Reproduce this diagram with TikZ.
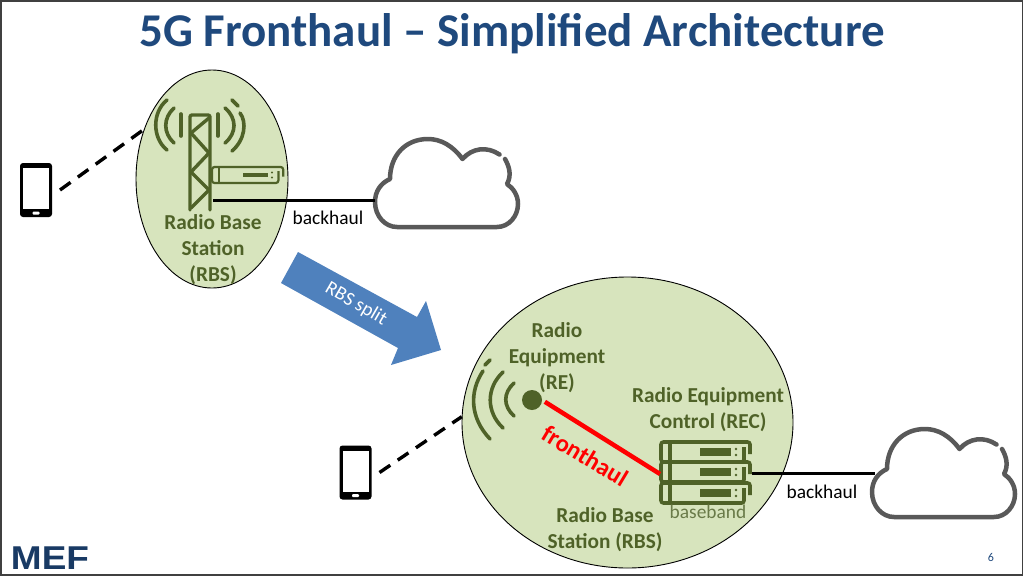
\documentclass[tikz,border=0pt]{standalone}
\usepackage{fontspec}
\setmainfont{Carlito}
\newfontfamily\logofont{Liberation Sans}
\usetikzlibrary{shapes.geometric}
\definecolor{olive}{HTML}{4F6228}
\definecolor{leaf}{HTML}{D7E4BD}
\definecolor{titleblue}{HTML}{1F497D}
\definecolor{arrowblue}{HTML}{4F81BD}
\tikzset{
    pics/phoneicon/.style={code={
        \node[phonebody] (-body) {};
        \fill[white] (-13,-22) rectangle (13,19);
        \fill[white, rounded corners=1pt] (-3.5,21.5) rectangle (3.5,24.5);
    }},
    pics/cloudicon/.style={code={
        \draw[cloudline] (124.5,16.5) .. controls (112,8) and (97,10) .. (87.5,21)
            .. controls (78,8) and (66,1) .. (53,1) .. controls (30,1) and (15,18) .. (15,41)
            .. controls (6,45) and (0,53) .. (0,64) .. controls (0,78) and (10,89) .. (22,89)
            -- (122,89) .. controls (134,89) and (143,78) .. (143,66)
            .. controls (143,57) and (138,50) .. (132,46) .. controls (137,37) and (134,28) .. (130,21);
    }},
    pics/serverrow/.style={code={
        \draw[olive, rounded corners=2.5pt] (89,12) -- (89,0) -- (0,0) -- (0,20) -- (83,20) -- (83,5);
        \draw[olive] (9,0) -- (9,20);
        \draw[olive, line width=1.4*\pgflinewidth] (39,10) -- (70,10);
        \fill[olive] (75,7) circle (1.4) (75,13) circle (1.4);
    }}
}
\begin{document}
\begin{tikzpicture}[x=1pt, y=-1pt,
    site/.style={ellipse, draw=black, fill=leaf, line width=0.9pt, inner sep=0pt},
    phonebody/.style={rectangle, fill=black, rounded corners=3pt, inner sep=0pt, minimum width=32pt, minimum height=54pt, outer sep=8pt},
    cloudline/.style={draw=black!65, line width=4.5pt, line join=round, line cap=round},
    oliveline/.style={draw=olive, line width=3.4pt, line cap=round, line join=round},
    wave/.style={draw=olive, line width=3.6pt, line cap=round},
    radiolink/.style={draw=black, line width=3.4pt, dash pattern=on 13pt off 9pt},
    wiredlink/.style={draw=black, line width=3pt},
    sitelabel/.style={text=olive, font=\fontsize{21.3}{26}\selectfont\bfseries, align=center, inner sep=0pt},
    linklabel/.style={text=black, font=\fontsize{19.4}{22}\selectfont, inner sep=0pt}]

    \useasboundingbox (0,0) rectangle (1024,576);
    \fill[white] (0,0) rectangle (1024,576);
    \draw[black!75, line width=1.5pt] (1,1) rectangle (1022.5,575);

    % title and logo
    \node[text=titleblue, font=\fontsize{47}{50}\selectfont\bfseries, inner sep=0pt] (title) at (512,34) {5G Fronthaul -- Simplified Architecture};
    \node[text=titleblue!80!black, font=\logofont\fontsize{33}{33}\selectfont\bfseries, xscale=1.12, inner sep=0pt] (logo) at (50,558) {MEF};
    \node[text=titleblue, font=\fontsize{12}{14}\selectfont, inner sep=0pt] (pagenum) at (991,557) {6};

    % sites
    \node[site, minimum width=152pt, minimum height=218pt] (rbsA) at (212,179) {};
    \node[site, minimum width=331pt, minimum height=291pt] (rbsB) at (627.5,422.5) {};

    % tower
    \draw[oliveline] (190,210) -- (190,118) [rounded corners=2pt] -- (190,115) -- (210,115) -- (210,210);
    \draw[oliveline] (209,118) -- (191,133) -- (209,153) -- (191,172) -- (209,190) -- (191,208);
    \draw[wave] (181,114) -- (181,136);
    \draw[wave] (174,108) .. controls (163,118) and (163,133) .. (174,143);
    \draw[wave] (167,100) .. controls (152,112) and (152,138) .. (167,150);
    \draw[wave] (218,114) -- (218,136);
    \draw[wave] (225,108) .. controls (237,118) and (237,133) .. (225,143);
    \draw[wave] (232,100) -- (238,106);
    \draw[wave] (240,113) .. controls (247,122) and (245,140) .. (232,151);
    \pic[line width=2.2pt, xscale=0.8, yscale=0.8] (radioA) at (212,167) {serverrow};

    % antenna and baseband
    \node[circle, fill=olive, minimum size=20pt, inner sep=0pt, outer sep=3pt] (reDot) at (532,400) {};
    \draw[wave] (514,383) .. controls (503,393) and (503,406) .. (514,416);
    \draw[wave] (503,372) .. controls (486,388) and (486,412) .. (503,428);
    \draw[wave] (483,371) .. controls (469,392) and (470,418) .. (490,439);
    \draw[wave] (485,365) -- (490,360);
    \foreach \rowy/\rowname in {442/bbTop, 462/bbMid, 483/bbLow}
        \pic[line width=3.6pt] (\rowname) at (661,\rowy) {serverrow};

    % phones and clouds
    \pic (phoneA) at (36,190) {phoneicon};
    \pic (phoneB) at (355.5,472.5) {phoneicon};
    \pic (cloudA) at (375,138) {cloudicon};
    \pic (cloudB) at (872,428) {cloudicon};

    % link ends
    \coordinate (towerBase) at (213,200);
    \coordinate (cloudAport) at (375,200);
    \coordinate (bbWest) at (660,474);
    \coordinate (bbEast) at (752,473);
    \coordinate (cloudBport) at (875,473);

    \draw[radiolink] (phoneA-body.east) -- (rbsA.144);
    \draw[radiolink] (phoneB-body.east) -- (rbsB.178);
    \draw[wiredlink] (towerBase) -- (cloudAport);
    \draw[wiredlink] (bbEast) -- (cloudBport);
    \draw[red, line width=4.5pt] (reDot.-8) -- (bbWest);

    % split arrow
    \fill[arrowblue] (298,252) -- (417,317) -- (426,301) -- (441,350) -- (391,365) -- (398,348) -- (281,283) -- cycle;
    \node[text=white, rotate=-30, font=\fontsize{19.4}{22}\selectfont, inner sep=0pt] (splitlabel) at (356,304) {RBS split};

    % labels
    \node[sitelabel] (labelA) at (213,250) {Radio Base\\Station\\(RBS)};
    \node[sitelabel] (labelRE) at (557,358) {Radio\\Equipment\\(RE)};
    \node[sitelabel] (labelREC) at (708,410) {Radio Equipment\\Control (REC)};
    \node[sitelabel] (labelB) at (605,530) {Radio Base\\Station (RBS)};
    \node[text=red, rotate=-31, font=\fontsize{24.5}{27}\selectfont\bfseries, inner sep=0pt] (fronthaul) at (585,456) {fronthaul};
    \node[linklabel, text=olive!85!white] (baseband) at (708,512) {baseband};
    \node[linklabel] (backhaulA) at (328,218) {backhaul};
    \node[linklabel] (backhaulB) at (822,492) {backhaul};
\end{tikzpicture}
\end{document}
